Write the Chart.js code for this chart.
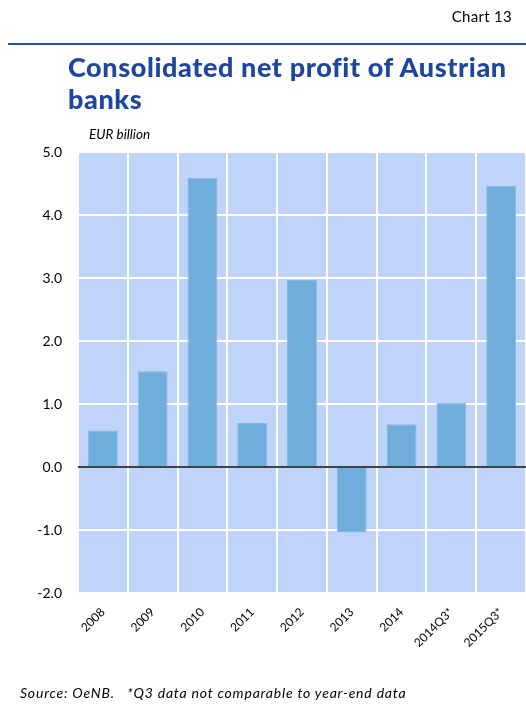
<!DOCTYPE html>
<html><head><meta charset="utf-8">
<script src="https://cdn.jsdelivr.net/npm/chart.js@4/dist/chart.umd.min.js"></script>
<style>
html,body{margin:0;padding:0;background:#fff;}
#wrap{position:relative;width:526px;height:716px;overflow:hidden;font-family:Lato,"Open Sans",sans-serif;}
#c{position:absolute;left:0;top:0;}
.t{position:absolute;white-space:nowrap;color:#000;}
</style></head>
<body><div id="wrap">
<canvas id="c" width="526" height="716"></canvas>
<div class="t" style="right:14px;top:7px;font-size:15px;letter-spacing:0.3px;">Chart 13</div>
<div style="position:absolute;left:8px;right:0;top:43px;height:2px;background:#2A52A6;"></div>
<div class="t" style="left:68px;top:51px;font-size:27px;font-weight:900;color:#1E46A0;line-height:32px;white-space:normal;width:456px;letter-spacing:0.6px;">Consolidated net profit of Austrian banks</div>
<div class="t" style="left:89px;top:126px;font-size:13.5px;font-style:italic;">EUR billion</div>
<div class="t" style="left:20px;top:684px;font-size:14px;font-style:italic;letter-spacing:0.8px;">Source: OeNB.&nbsp;&nbsp;&nbsp;*Q3 data not comparable to year-end data</div>
</div>
<script>
const categories = ['2008','2009','2010','2011','2012','2013','2014','2014Q3*','2015Q3*'];
const profit = [0.58, 1.52, 4.59, 0.70, 2.97, -1.04, 0.68, 1.02, 4.46];
const yTicks = [-2,-1,0,1,2,3,4,5];

const bgPlugin = {
  id:'bg',
  beforeDraw(chart){
    const a = chart.chartArea, ctx = chart.ctx;
    ctx.save(); ctx.fillStyle = '#C0D3F8';
    ctx.fillRect(a.left, a.top, a.right-a.left, a.bottom-a.top);
    ctx.restore();
  },
  afterDatasetsDraw(chart){
    const y = chart.scales.y.getPixelForValue(0), a = chart.chartArea, ctx = chart.ctx;
    ctx.save(); ctx.strokeStyle='#000'; ctx.lineWidth=1.5;
    ctx.beginPath(); ctx.moveTo(a.left,y); ctx.lineTo(a.right,y); ctx.stroke(); ctx.restore();
  }
};

new Chart(document.getElementById('c'), {
  type:'bar',
  data:{labels:categories, datasets:[{data:profit, backgroundColor:'#70ADDB', borderColor:'#86B9E2', borderWidth:1, barPercentage:0.6, categoryPercentage:1.0}]},
  plugins:[bgPlugin],
  options:{
    responsive:false, animation:false,
    layout:{padding:{top:152,left:0,right:0,bottom:63}},
    plugins:{legend:{display:false}, tooltip:{enabled:false}},
    scales:{
      x:{
        grid:{color:'#FFFFFF', lineWidth:2, drawTicks:false, offset:true},
        border:{display:false},
        ticks:{minRotation:45,maxRotation:45,color:'#000',font:{family:'Lato',size:12},padding:12},
        afterFit(s){s.height=60;}
      },
      y:{
        min:-2,max:5,
        afterBuildTicks(s){s.ticks = yTicks.map(v=>({value:v}));},
        grid:{color:'#FFFFFF', lineWidth:2, drawTicks:false},
        border:{display:false},
        ticks:{color:'#000',font:{family:'Lato',size:14},padding:16,callback:v=>Number(v).toFixed(1)},
        afterFit(s){s.width=78;}
      }
    }
  }
});
</script>
</body></html>
